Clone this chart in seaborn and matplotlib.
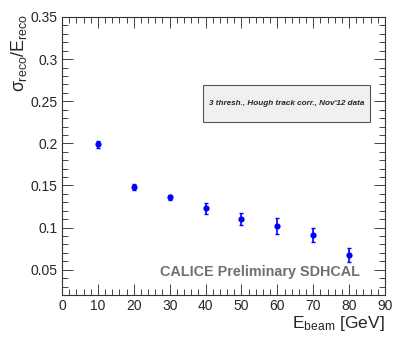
import matplotlib
matplotlib.use("Agg")
import matplotlib.pyplot as plt
import seaborn as sns
import pandas as pd
from matplotlib.ticker import MultipleLocator
from matplotlib.patches import Rectangle

# data
e_beam = [10, 20, 30, 40, 50, 60, 70, 80]
resolution = [0.199, 0.148, 0.136, 0.123, 0.110, 0.1015, 0.091, 0.0675]
res_err = [0.0040, 0.0035, 0.0030, 0.0065, 0.0073, 0.0095, 0.0083, 0.0085]

df = pd.DataFrame({"E": e_beam, "res": resolution, "err": res_err})

sns.set_style("ticks")
plt.rcParams["font.family"] = ["Liberation Sans", "DejaVu Sans"]
plt.rcParams["mathtext.fontset"] = "custom"
plt.rcParams["mathtext.rm"] = "Liberation Sans"
plt.rcParams["mathtext.it"] = "Liberation Sans"

W, H = 407, 344
fig = plt.figure(figsize=(W / 100, H / 100), dpi=100)
ax = fig.add_axes([62 / W, 1 - 295 / H, (385 - 62) / W, (295 - 17) / H])

ax.errorbar(df["E"], df["res"], yerr=df["err"], fmt="none", ecolor="#0000ff",
            elinewidth=1.2, capsize=1.2, capthick=1.0, zorder=2)
sns.scatterplot(data=df, x="E", y="res", ax=ax, color="#0000ff", s=20,
                edgecolor="#0000ff", linewidth=0, zorder=3, legend=False)

ax.set_xlim(0, 90)
ax.set_ylim(0.02, 0.35)
ax.xaxis.set_major_locator(MultipleLocator(10))
ax.xaxis.set_minor_locator(MultipleLocator(2))
ax.yaxis.set_minor_locator(MultipleLocator(0.01))
ax.set_yticks([0.05, 0.1, 0.15, 0.2, 0.25, 0.3, 0.35])
ax.set_yticklabels(["0.05", "0.1", "0.15", "0.2", "0.25", "0.3", "0.35"])
ax.tick_params(which="both", direction="in", top=True, right=True,
               labelsize=10, color="#444444", width=0.7, pad=3)
ax.tick_params(which="major", length=8)
ax.tick_params(which="minor", length=4)
for s in ax.spines.values():
    s.set_color("#333333")
    s.set_linewidth(0.8)

ax.set_xlabel("")
ax.set_ylabel("")
fig.text(385 / W, 1 - 333 / H, r"E$_{\mathregular{beam}}$ [GeV]", ha="right", va="bottom", fontsize=12.5)
fig.text(9 / W, 1 - 14 / H, r"$\sigma_{\mathregular{reco}}$/E$_{\mathregular{reco}}$", rotation=90,
         ha="left", va="top", fontsize=12.8)

# info box
fig.patches.append(Rectangle((203 / W, 1 - 122 / H), 167 / W, 37 / H, transform=fig.transFigure,
                             facecolor="#f0f0f0", edgecolor="#555555", linewidth=0.8, zorder=5))
fig.text(286.5 / W, 1 - 103.5 / H, "3 thresh., Hough track corr., Nov'12 data",
         fontsize=5.9, style="italic", weight="bold", ha="center", va="center", zorder=6)
fig.text(260 / W, 1 - 272 / H, "CALICE Preliminary SDHCAL", fontsize=10.4, weight="bold",
         color="#707070", ha="center", va="center")

fig.savefig("out.png", dpi=100)
